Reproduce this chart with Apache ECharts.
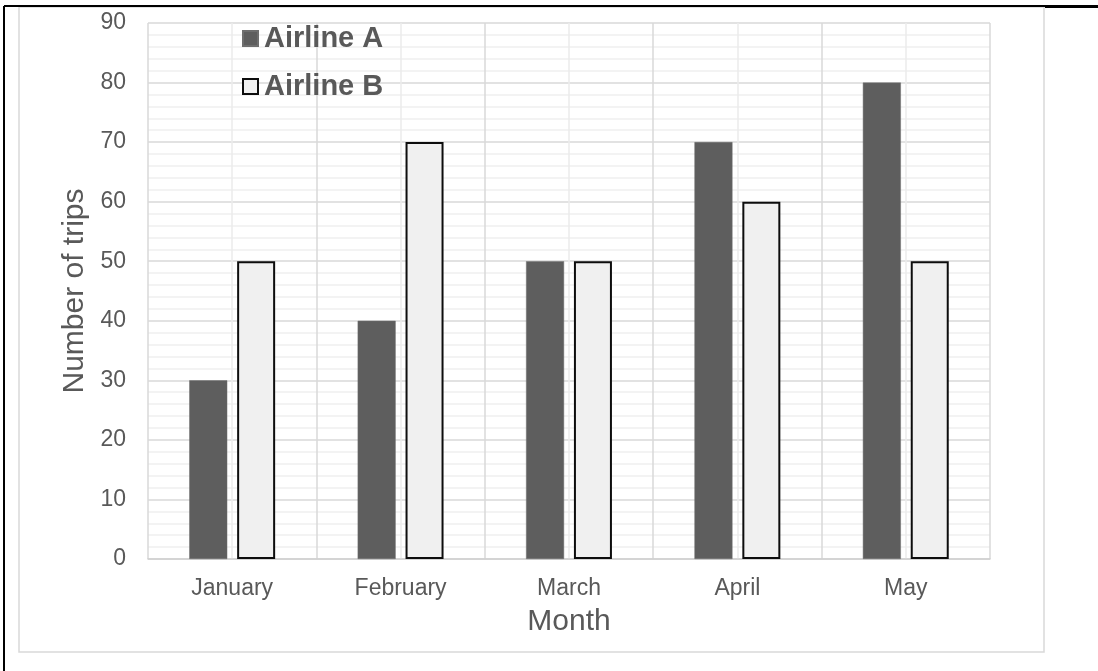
<!DOCTYPE html>
<html>
<head>
<meta charset="utf-8">
<script src="https://cdn.jsdelivr.net/npm/echarts@6/dist/echarts.min.js"></script>
<style>
  html, body { margin: 0; padding: 0; background: #fff; }
  #chart { width: 1098px; height: 671px; }
</style>
</head>
<body>
<div id="chart"></div>
<script>
// data
const months = ['January', 'February', 'March', 'April', 'May']
const airlineA = [30, 40, 50, 70, 80]
const airlineB = [50, 70, 50, 60, 50]
const seriesNames = ['Airline A', 'Airline B']

const font = '"Liberation Sans", Arial, sans-serif'
const textGray = '#595959'

const chart = echarts.init(document.getElementById('chart'))

chart.setOption({
  animation: false,
  backgroundColor: '#fff',
  textStyle: { fontFamily: font },
  graphic: [
    // light chart-area border
    { type: 'rect', z: -1, shape: { x: 19, y: 7, width: 1025, height: 645 },
      style: { fill: 'none', stroke: '#d9d9d9', lineWidth: 1.5 } },
    // outer black frame pieces
    { type: 'line', shape: { x1: 4, y1: 6, x2: 4, y2: 671 }, style: { stroke: '#000', lineWidth: 2 } },
    { type: 'line', shape: { x1: 4, y1: 6, x2: 1098, y2: 6 }, style: { stroke: '#000', lineWidth: 2 } },
    { type: 'line', shape: { x1: 1045, y1: 6.5, x2: 1098, y2: 6.5 }, style: { stroke: '#000', lineWidth: 3 } }
  ],
  legend: {
    orient: 'vertical',
    left: 237,
    top: 19,
    itemWidth: 15,
    itemHeight: 15,
    itemGap: 19,
    icon: 'rect',
    textStyle: { fontSize: 29, fontWeight: 'bold', color: textGray, lineHeight: 29, padding: [0, 0, 0, 1] },
    data: seriesNames
  },
  grid: { left: 148, top: 23, right: 108, bottom: 112, containLabel: false },
  xAxis: [
    {
      type: 'category',
      data: months,
      name: 'Month',
      nameLocation: 'middle',
      nameGap: 48,
      nameTextStyle: { fontSize: 30, color: textGray },
      axisLine: { lineStyle: { color: '#d0d0d0', width: 1.5 } },
      axisTick: { show: false },
      axisLabel: { fontSize: 23, color: textGray, margin: 18 },
      splitLine: { show: false }
    },
    {
      // hidden helper axis for the vertical gridlines
      type: 'value',
      position: 'top',
      min: 0,
      max: 5,
      interval: 1,
      axisLine: { show: false },
      axisTick: { show: false },
      axisLabel: { show: false },
      splitLine: { show: true, lineStyle: { color: '#d9d9d9', width: 1.5 } },
      minorTick: { show: false, splitNumber: 2 },
      minorSplitLine: { show: true, lineStyle: { color: '#ececec', width: 1.5 } }
    }
  ],
  yAxis: {
    type: 'value',
    min: 0,
    max: 90,
    interval: 10,
    name: 'Number of trips',
    nameLocation: 'middle',
    nameRotate: 90,
    nameGap: 58,
    nameTextStyle: { fontSize: 30, color: textGray },
    axisLine: { show: false },
    axisTick: { show: false },
    axisLabel: { fontSize: 23, color: textGray, margin: 22 },
    splitLine: { show: true, lineStyle: { color: '#d9d9d9', width: 1.5 } },
    minorTick: { show: false, splitNumber: 5 },
    minorSplitLine: { show: true, lineStyle: { color: '#efefef', width: 1.5 } }
  },
  series: [
    {
      name: seriesNames[0],
      type: 'bar',
      xAxisIndex: 0,
      data: airlineA,
      barWidth: 38,
      barGap: '26%',
      itemStyle: { color: '#5e5e5e', borderColor: '#6e6e6e', borderWidth: 0.5 }
    },
    {
      name: seriesNames[1],
      type: 'bar',
      xAxisIndex: 0,
      data: airlineB,
      barWidth: 38,
      barGap: '26%',
      itemStyle: { color: '#f0f0f0', borderColor: '#0d0d0d', borderWidth: 2 }
    }
  ]
})
</script>
</body>
</html>
